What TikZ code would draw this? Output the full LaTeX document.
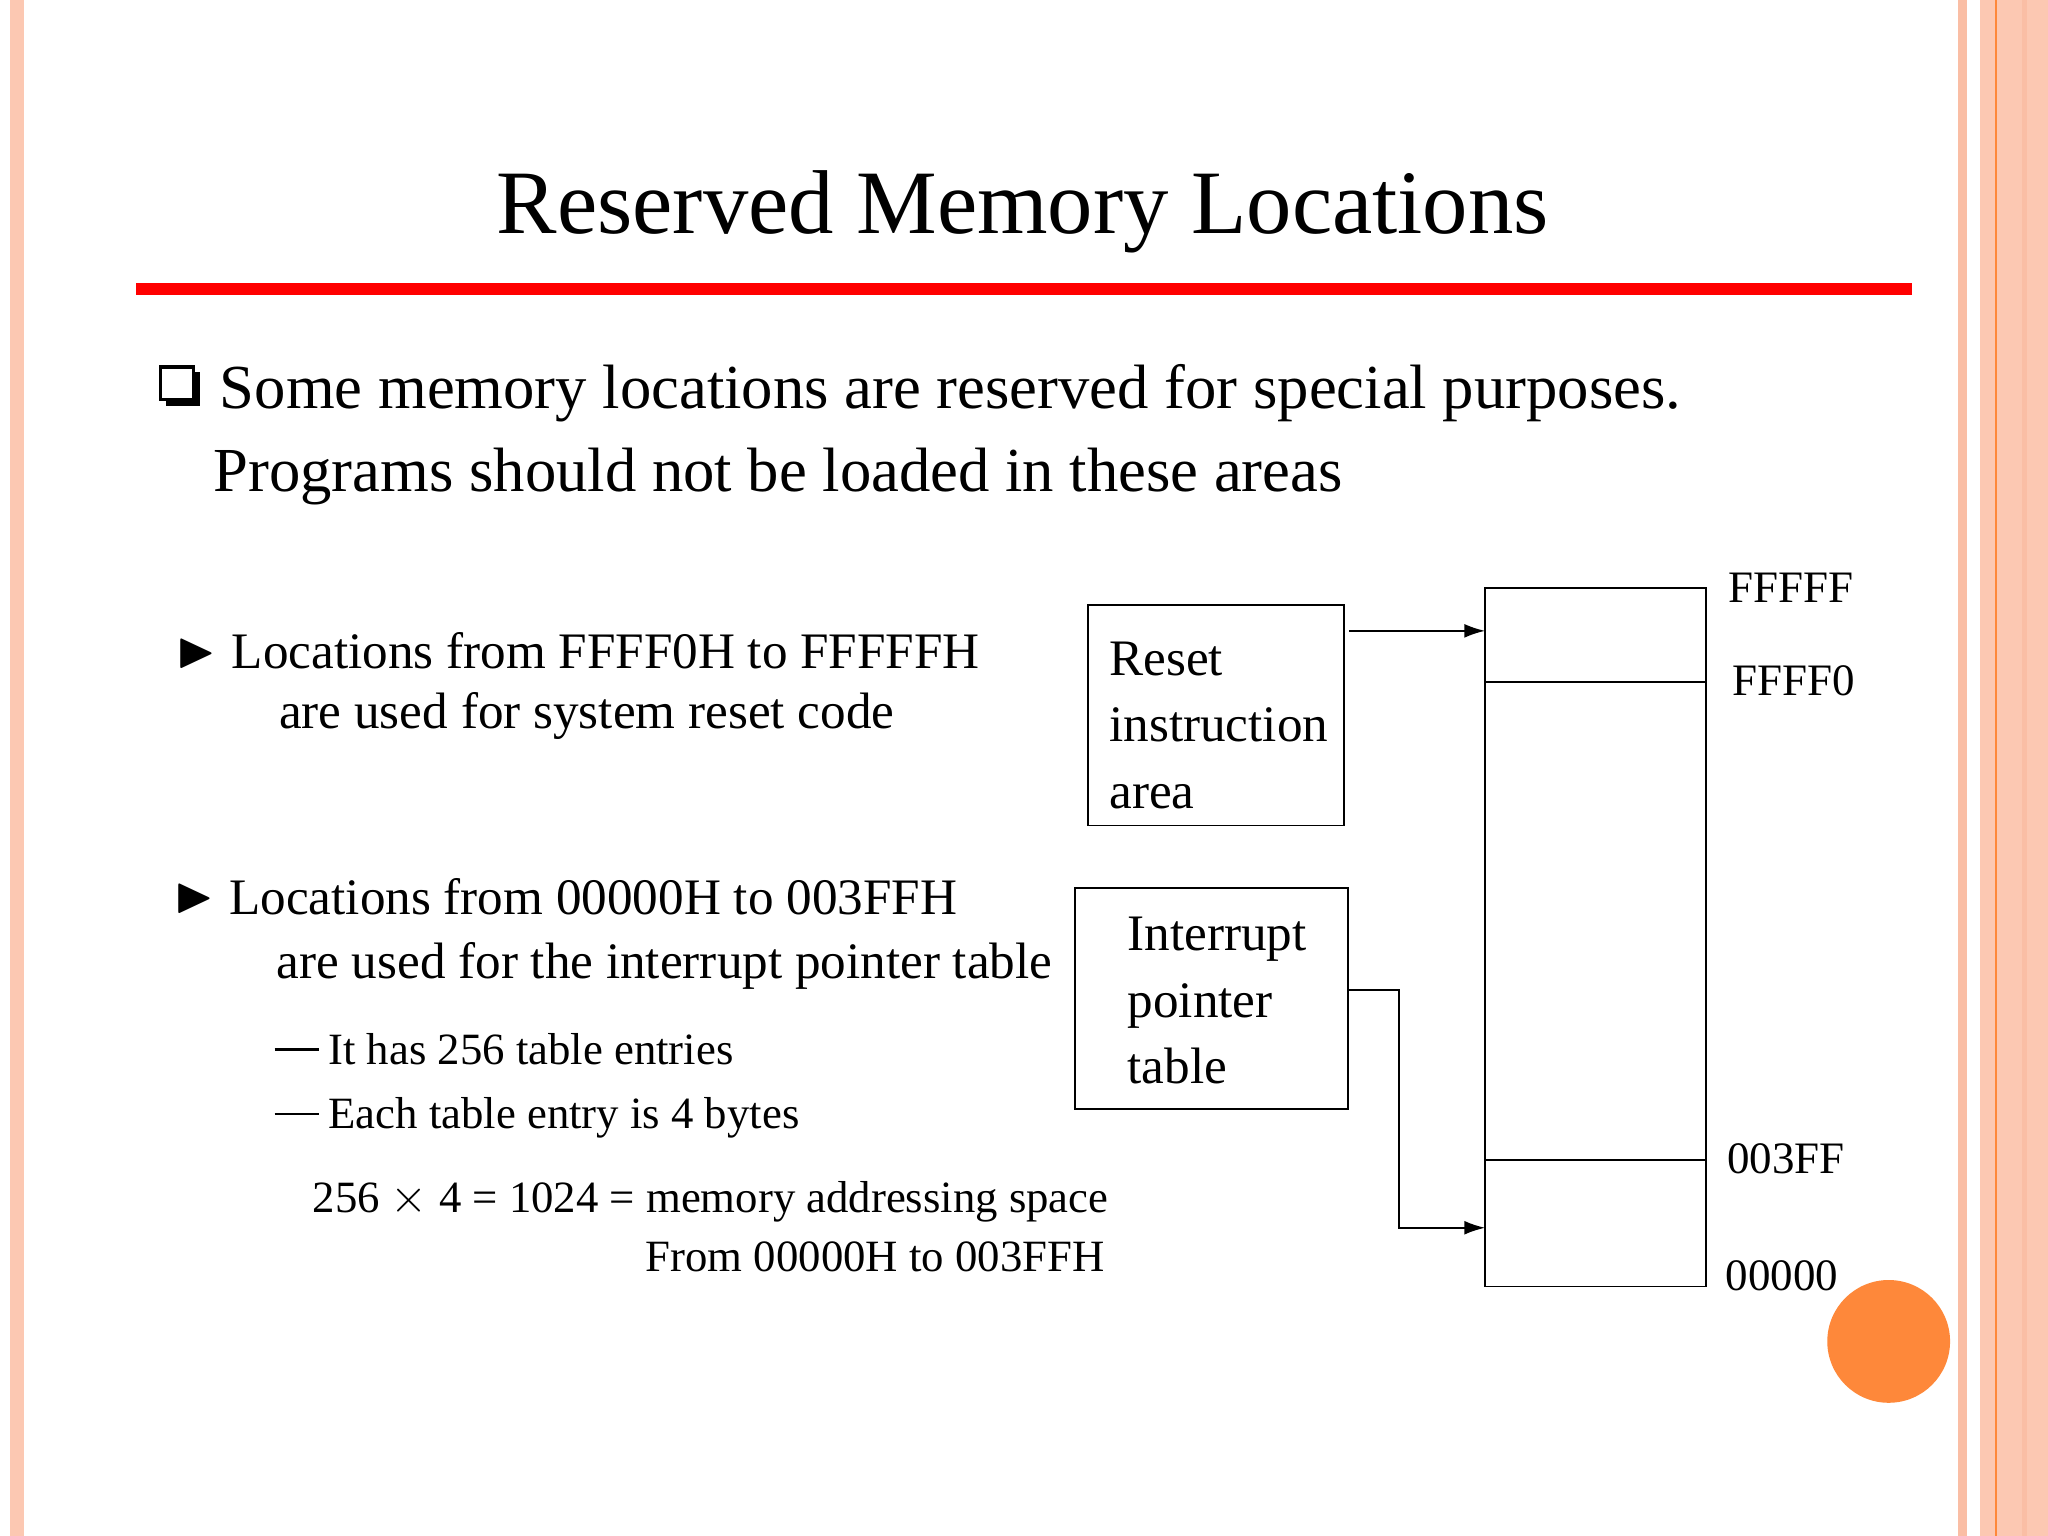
\documentclass[tikz,border=0pt]{standalone}
\usepackage{fontspec}
\setmainfont{Liberation Serif}
\usepackage{amssymb}
\begin{document}
\begin{tikzpicture}[x=0.02cm,y=-0.02cm,
  lab/.style={anchor=west,font=\fontsize{19.6}{22}\selectfont,inner sep=0},
  arr/.style={-{Latex[length=9pt,width=6pt]},line width=0.7pt}]
\usetikzlibrary{arrows.meta}
\definecolor{sal}{RGB}{252,200,178}
\definecolor{sal2}{RGB}{250,190,165}
\definecolor{org}{RGB}{254,136,58}
\useasboundingbox (0,0) rectangle (1568,1176);
\fill[white] (0,0) rectangle (1568,1176);
\fill[sal] (8,0) rectangle (18,1176);
\fill[sal2] (1499,0) rectangle (1506,1176);
\fill[sal] (1516,0) rectangle (1568,1176);
\draw[org,line width=1pt] (1528,0) -- (1528,1176);
\fill[sal2] (1548,0) rectangle (1552,1176);
\node[font=\fontsize{39.5}{42}\selectfont] (title) at (783,162) {Reserved Memory Locations};
\fill[red] (104,217) rectangle (1464,226);
% checkbox
\fill[black] (127,285) rectangle (153,311);
\draw[fill=white,line width=1.4pt] (123,281) rectangle (148,306);
\node[anchor=north west,inner sep=0,font=\fontsize{27.3}{34}\selectfont,align=left] (t1) at (168,279)
 {Some memory locations are reserved for special purposes.\\[2pt]
 \hspace{-0.1em}Programs should not be loaded in these areas};
\node[anchor=north west,inner sep=0,font=\fontsize{22.3}{26}\selectfont,align=left] (b1) at (135,484)
 {\raisebox{1pt}{$\blacktriangleright$}\hspace{0.3em}Locations from FFFF0H to FFFFFH\\[0pt]
 \hspace{2.0em}are used for system reset code};
\node[anchor=north west,inner sep=0,font=\fontsize{22.3}{26}\selectfont,align=left] (b2) at (133,672)
 {\raisebox{1pt}{$\blacktriangleright$}\hspace{0.3em}Locations from 00000H to 003FFH\\[2pt]
 \hspace{2.0em}are used for the interrupt pointer table};
\node[anchor=west,inner sep=0,font=\fontsize{19.5}{22}\selectfont] (s1) at (210,803) {\rule[0.3em]{1.0em}{1.2pt}\hspace{0.2em}It has 256 table entries};
\node[anchor=west,inner sep=0,font=\fontsize{19.5}{22}\selectfont] (s2) at (210,856) {\rule[0.3em]{1.0em}{1.2pt}\hspace{0.2em}Each table entry is 4 bytes};
\node[anchor=west,inner sep=0,font=\fontsize{19.5}{22}\selectfont] (e1) at (239,920) {256 $\times$ 4 = 1024 = memory addressing space};
\node[anchor=east,inner sep=0,font=\fontsize{19.5}{22}\selectfont] (e2) at (846,962) {From 00000H to 003FFH};
% boxes
\draw[line width=0.8pt] (833,463) rectangle (1029,632);
\coordinate (rA) at (1033,483);
\node[anchor=north west,align=left,inner sep=0,font=\fontsize{22.3}{29}\selectfont] (rt) at (849,491) {Reset\\instruction\\area};
\draw[line width=0.8pt] (823,680) rectangle (1032,849);
\coordinate (iA) at (1032,758);
\node[anchor=north west,align=left,inner sep=0,font=\fontsize{22.3}{29}\selectfont] (it) at (863,702) {Interrupt\\pointer\\table};
% memory
\draw[line width=0.8pt] (1137,450) rectangle (1306,985);
\draw[line width=0.8pt] (1137,522) -- (1306,522);
\draw[line width=0.8pt] (1137,888) -- (1306,888);
\coordinate (mTop) at (1137,483);
\coordinate (mBot) at (1137,940);
\draw[arr] (rA) -- (mTop);
\draw[arr] (iA) -- (1071,758) -- (1071,940) -- (mBot);
\node[lab] (a1) at (1323,450) {FFFFF};
\node[lab] (a2) at (1326,521) {FFFF0};
\node[lab] (a3) at (1322,887) {003FF};
\node[lab] (a4) at (1321,977) {00000};
\fill[org] (1446,1027) circle (47);
\end{tikzpicture}
\end{document}
